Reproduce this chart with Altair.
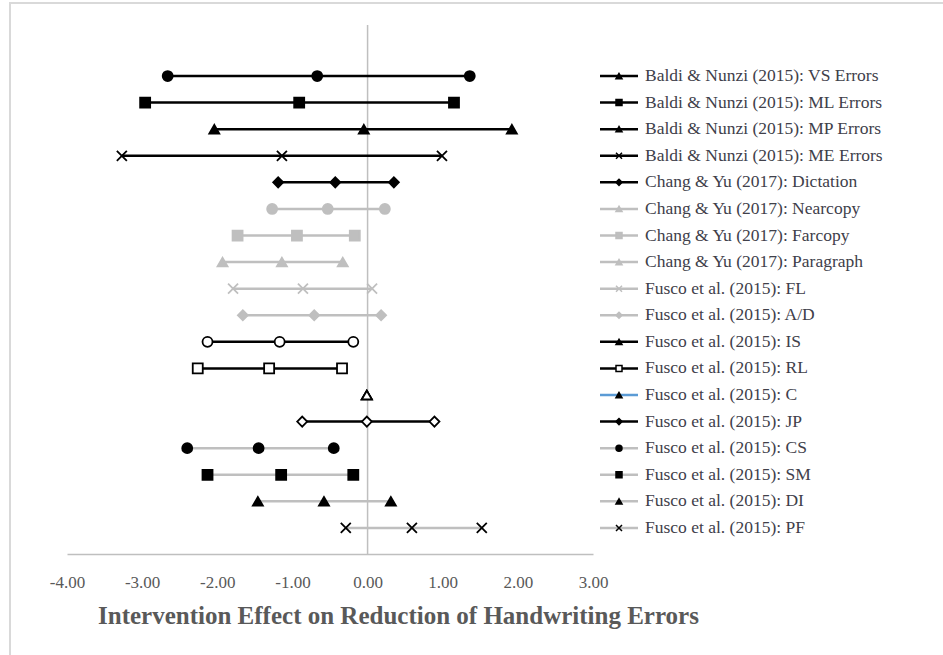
import altair as alt
import pandas as pd

labels = [
    "Baldi & Nunzi (2015): VS Errors",
    "Baldi & Nunzi (2015): ML Errors",
    "Baldi & Nunzi (2015): MP Errors",
    "Baldi & Nunzi (2015): ME Errors",
    "Chang & Yu (2017): Dictation",
    "Chang & Yu (2017): Nearcopy",
    "Chang & Yu (2017): Farcopy",
    "Chang & Yu (2017): Paragraph",
    "Fusco et al. (2015): FL",
    "Fusco et al. (2015): A/D",
    "Fusco et al. (2015): IS",
    "Fusco et al. (2015): RL",
    "Fusco et al. (2015): C",
    "Fusco et al. (2015): JP",
    "Fusco et al. (2015): CS",
    "Fusco et al. (2015): SM",
    "Fusco et al. (2015): DI",
    "Fusco et al. (2015): PF",
]
low = [-2.66, -2.96, -2.04, -3.27, -1.19, -1.27, -1.73, -1.93, -1.79, -1.66,
       -2.13, -2.26, -0.01, -0.87, -2.40, -2.13, -1.46, -0.29]
mid = [-0.67, -0.91, -0.05, -1.14, -0.43, -0.53, -0.94, -1.14, -0.86, -0.71,
       -1.17, -1.31, -0.01, -0.01, -1.45, -1.15, -0.58, 0.59]
high = [1.36, 1.15, 1.92, 0.99, 0.35, 0.23, -0.17, -0.33, 0.06, 0.18,
        -0.19, -0.34, -0.01, 0.89, -0.45, -0.19, 0.31, 1.52]
ticks = [-4, -3, -2, -1, 0, 1, 2, 3]
x_title = "Intervention Effect on Reduction of Handwriting Errors"

n = len(labels)
pos = [n - i for i in range(n)]

# ---- styles ----
BLACK, GRAY, BLUE, WHITE = "#000000", "#bfbfbf", "#5b9bd5", "#ffffff"
XPATH = "M-1,-1L1,1M-1,1L1,-1"
line_colors = [BLACK] * 5 + [GRAY] * 5 + [BLACK] * 2 + [BLUE] + [BLACK] + [GRAY] * 4
line_widths = [2.5] * 5 + [2.5] * 5 + [2.5] * 2 + [2] + [2.5] + [1.5] * 4
pt_shapes = ["circle", "square", "triangle-up", XPATH, "diamond"] * 2 + \
    ["circle", "square", "triangle-up", "diamond", "circle", "square", "triangle-up", XPATH]
pt_fill = [BLACK] * 5 + [GRAY] * 5 + [WHITE] * 4 + [BLACK] * 4
pt_stroke = [BLACK] * 5 + [GRAY] * 5 + [BLACK] * 8
leg_shapes = ["triangle-up", "square", "triangle-up", XPATH, "diamond",
              "triangle-up", "square", "triangle-up", XPATH, "diamond",
              "triangle-up", "square", "triangle-up", "diamond",
              "circle", "square", "triangle-up", XPATH]
leg_fill = [BLACK] * 5 + [GRAY] * 5 + [BLACK, WHITE, BLACK, BLACK] + [BLACK] * 4
leg_stroke = [BLACK] * 5 + [GRAY] * 5 + [BLACK] * 8

W, H = 526, 529

series_df = pd.DataFrame({"series": labels, "pos": pos, "low": low, "mid": mid, "high": high})
points_df = series_df.melt(id_vars=["series", "pos"], value_vars=["low", "mid", "high"],
                           var_name="kind", value_name="x")

xscale = alt.Scale(domain=[-4, 3], nice=False, zero=False)
yscale = alt.Scale(domain=[0.02, 19.92], nice=False, zero=False)

xaxis = alt.Axis(
    values=ticks,
    labelExpr="datum.value < 0 ? '-' + format(abs(datum.value), '.2f') : format(datum.value, '.2f')",
    ticks=False, grid=False, labelFlush=False,
    domainColor=GRAY, domainWidth=1.5,
    labelFont="Liberation Serif", labelFontSize=17, labelColor="#595959",
    labelPadding=28, labelBaseline="middle",
    title=x_title, titleFont="Liberation Serif", titleFontSize=25,
    titleFontWeight="bold", titleColor="#595959",
    titleX=331, titleY=61, titleAlign="center", titleBaseline="middle",
)

Y = alt.Y("pos:Q", scale=yscale, axis=None)

color_sc = alt.Scale(domain=labels, range=line_colors)
width_sc = alt.Scale(domain=labels, range=line_widths)

border = alt.Chart(pd.DataFrame({"k": [0]})).mark_rect(
    fillOpacity=0, stroke="#d9d9d9", strokeWidth=2
).encode(x=alt.value(-57), x2=alt.value(920), y=alt.value(-22), y2=alt.value(700))

zero_line = alt.Chart(pd.DataFrame({"x": [0]})).mark_rule(color=GRAY, strokeWidth=1.5).encode(
    x=alt.X("x:Q", scale=xscale, axis=xaxis), y=alt.value(0), y2=alt.value(H)
)

lines = alt.Chart(series_df).mark_rule().encode(
    x=alt.X("low:Q", scale=xscale, axis=xaxis), x2="high:Q", y=Y,
    color=alt.Color("series:N", scale=color_sc, legend=None),
    strokeWidth=alt.StrokeWidth("series:N", scale=width_sc, legend=None),
)

points = alt.Chart(points_df).mark_point(filled=True, size=100, strokeWidth=1.8, opacity=1).encode(
    x=alt.X("x:Q", scale=xscale, axis=xaxis), y=Y,
    shape=alt.Shape("series:N", scale=alt.Scale(domain=labels, range=pt_shapes), legend=None),
    fill=alt.Fill("series:N", scale=alt.Scale(domain=labels, range=pt_fill), legend=None),
    stroke=alt.Stroke("series:N", scale=alt.Scale(domain=labels, range=pt_stroke), legend=None),
)

leg_lines = alt.Chart(series_df).mark_rule().encode(
    x=alt.value(533), x2=alt.value(571), y=Y,
    color=alt.Color("series:N", scale=color_sc, legend=None),
    strokeWidth=alt.StrokeWidth("series:N", scale=width_sc, legend=None),
)

leg_pts = alt.Chart(series_df).mark_point(filled=True, size=36, strokeWidth=1.5, opacity=1).encode(
    x=alt.value(552), y=Y,
    shape=alt.Shape("series:N", scale=alt.Scale(domain=labels, range=leg_shapes), legend=None),
    fill=alt.Fill("series:N", scale=alt.Scale(domain=labels, range=leg_fill), legend=None),
    stroke=alt.Stroke("series:N", scale=alt.Scale(domain=labels, range=leg_stroke), legend=None),
)

leg_text = alt.Chart(series_df).mark_text(
    align="left", baseline="middle", font="Liberation Serif", fontSize=17.5, color="#40404a"
).encode(x=alt.value(578), y=Y, text="series:N")

chart = alt.layer(border, zero_line, lines, points, leg_lines, leg_pts, leg_text).resolve_scale(
    shape="independent", fill="independent", stroke="independent"
).properties(
    width=W, height=H,
    autosize=alt.AutoSizeParams(type="none"),
    padding={"left": 67, "top": 25, "right": 350, "bottom": 101},
    background="white",
).configure_view(strokeWidth=0)

chart.save("out.html", embed_options={"renderer": "svg", "actions": False})
